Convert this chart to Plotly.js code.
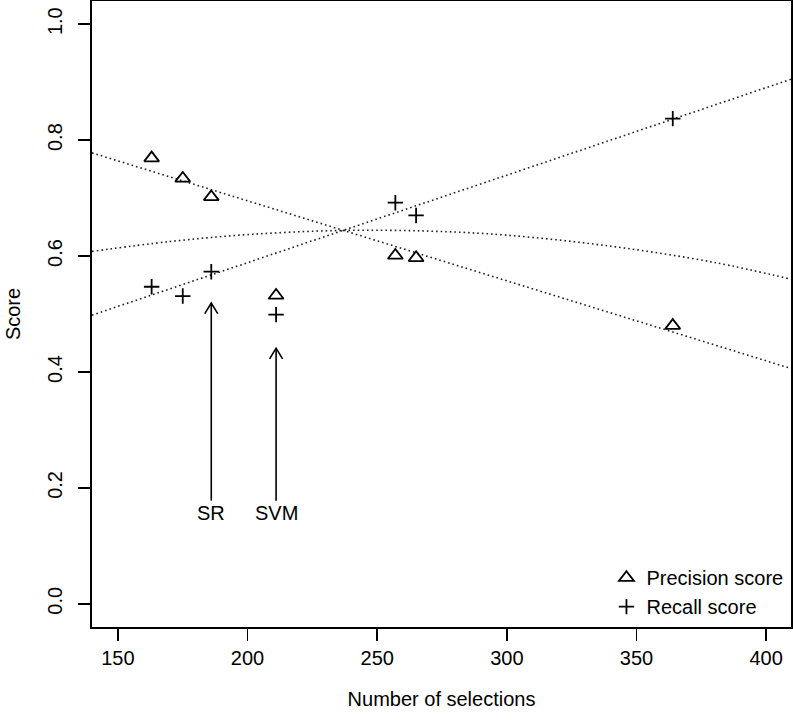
<!DOCTYPE html>
<html>
<head>
<meta charset="utf-8">
<script src="https://cdn.plot.ly/plotly-3.0.1.min.js"></script>
<style>
html,body{margin:0;padding:0;background:#fff;}
#chart{width:793px;height:720px;}
</style>
</head>
<body>
<div id="chart"></div>
<script>
// ---- data ----
var selections = [163, 175, 186, 257, 265, 364];
var precision  = [0.769, 0.734, 0.702, 0.601, 0.597, 0.480];
var recall     = [0.547, 0.531, 0.573, 0.692, 0.670, 0.837];

var svmSelections = [211];
var svmPrecision  = [0.532];
var svmRecall     = [0.499];

// fitted trend lines (dotted)
var fitX          = [140, 409.6];
var precisionFitY = [0.778, 0.406];
var recallFitY    = [0.498, 0.905];
var fCurveX = [140, 170, 200, 235, 270, 300, 340, 380, 409.6];
var fCurveY = [0.608, 0.625, 0.637, 0.644, 0.643, 0.636, 0.617, 0.589, 0.560];

// arrows marking methods
var arrowLabels = ['SR', 'SVM'];
var arrowX      = [186, 211];
var arrowTipY   = [0.519, 0.441];
var arrowTailY  = 0.178;
var labelY      = 0.156;

var xTicks = [150, 200, 250, 300, 350, 400];
var yTicks = [0, 0.2, 0.4, 0.6, 0.8, 1.0];

var FONT = 'Liberation Sans, Arial, Helvetica, sans-serif';
var FS = 20;

var traces = [];
var dotStyle = {color: '#222', width: 1.6, dash: '1.6px,3px'};
traces.push({x: fitX, y: precisionFitY, mode: 'lines', line: dotStyle, showlegend: false, hoverinfo: 'skip'});
traces.push({x: fitX, y: recallFitY, mode: 'lines', line: dotStyle, showlegend: false, hoverinfo: 'skip'});
traces.push({x: fCurveX, y: fCurveY, mode: 'lines', line: Object.assign({shape: 'spline'}, dotStyle), showlegend: false, hoverinfo: 'skip'});

// arrows: shaft + open V head
var headDX = 2.5, headDY = 0.0185;
for (var i = 0; i < arrowX.length; i++) {
  traces.push({
    x: [arrowX[i], arrowX[i], null, arrowX[i] - headDX, arrowX[i], arrowX[i] + headDX],
    y: [arrowTailY, arrowTipY[i], null, arrowTipY[i] - headDY, arrowTipY[i], arrowTipY[i] - headDY],
    mode: 'lines', line: {color: '#000', width: 1.6}, showlegend: false, hoverinfo: 'skip'
  });
}

var triMarker = {symbol: 'triangle-up-open', size: 13, color: '#000', line: {width: 1.8, color: '#000'}};
var crossMarker = {symbol: 'cross-thin-open', size: 11, color: '#000', line: {width: 1.8, color: '#000'}};

traces.push({x: selections.concat(svmSelections), y: precision.concat(svmPrecision), mode: 'markers',
  name: 'Precision score', marker: triMarker});
traces.push({x: selections.concat(svmSelections), y: recall.concat(svmRecall), mode: 'markers',
  name: 'Recall score', marker: crossMarker});

var annotations = [];
for (var j = 0; j < arrowLabels.length; j++) {
  annotations.push({x: arrowX[j], y: labelY, xref: 'x', yref: 'y', text: arrowLabels[j],
    showarrow: false, font: {family: FONT, size: FS, color: '#000'}, xanchor: 'center', yanchor: 'middle'});
}

var layout = {
  width: 793, height: 720,
  margin: {l: 92, r: 2, t: 1, b: 93},
  paper_bgcolor: '#fff', plot_bgcolor: '#fff',
  font: {family: FONT, size: FS, color: '#000'},
  xaxis: {
    range: [140, 409.6], tickvals: xTicks, ticktext: xTicks.map(String),
    ticks: 'outside', ticklen: 12, tickwidth: 1.5, tickcolor: '#000',
    showline: true, mirror: true, linecolor: '#000', linewidth: 1.6,
    showgrid: false, zeroline: false,
    title: {text: 'Number of selections', font: {family: FONT, size: FS}, standoff: 24}
  },
  yaxis: {
    range: [-0.04, 1.04], tickvals: yTicks, ticktext: yTicks.map(function(v){return v.toFixed(1);}),
    tickangle: -90, ticklabelstandoff: 8,
    ticks: 'outside', ticklen: 12, tickwidth: 1.5, tickcolor: '#000',
    showline: true, mirror: true, linecolor: '#000', linewidth: 1.6,
    showgrid: false, zeroline: false,
    title: {text: 'Score', font: {family: FONT, size: FS}, standoff: 18}
  },
  legend: {
    x: 0.736, y: 0.11, xanchor: 'left', yanchor: 'top',
    bgcolor: 'rgba(0,0,0,0)', borderwidth: 0,
    font: {family: FONT, size: FS, color: '#000'},
    tracegroupgap: 0
  },
  annotations: annotations,
  showlegend: true
};

Plotly.newPlot('chart', traces, layout, {staticPlot: true, displayModeBar: false});
</script>
</body>
</html>
